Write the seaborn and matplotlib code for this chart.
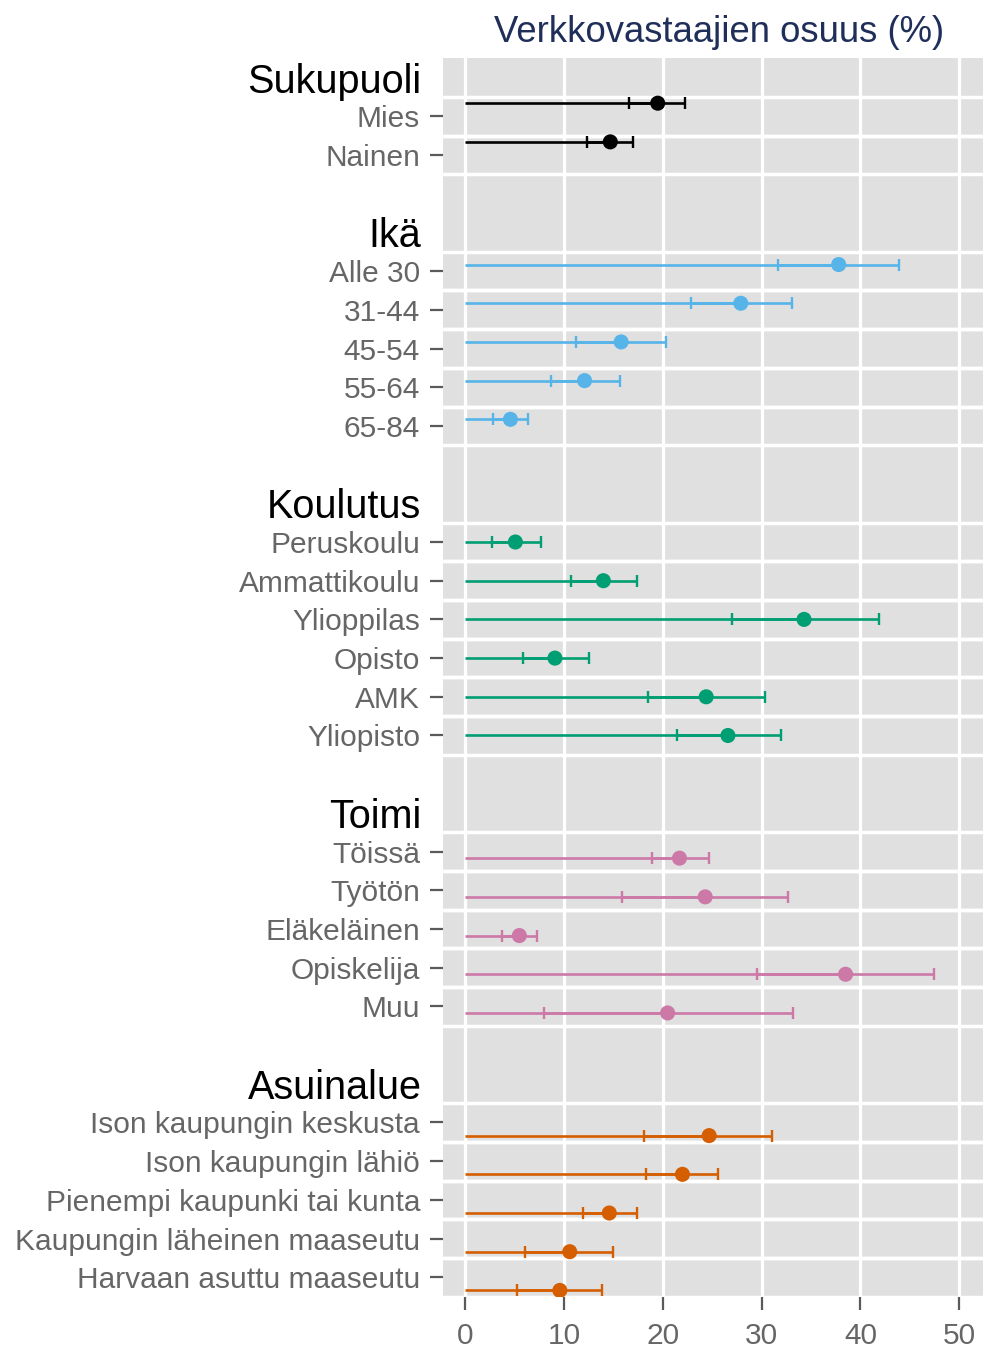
import numpy as np
import pandas as pd
import matplotlib
matplotlib.use("Agg")
import matplotlib.pyplot as plt
import matplotlib.transforms as mtransforms
import seaborn as sns

# -----------------------------
# Data
# -----------------------------
groups = ["Sukupuoli", "Ikä", "Koulutus", "Toimi", "Asuinalue"]
group_colors = ["#000000", "#56B4E9", "#009E73", "#CC79A7", "#D55E00"]

sukupuoli_labels = ["Mies", "Nainen"]
sukupuoli_est = [19.5, 14.7]
sukupuoli_low = [16.6, 12.3]
sukupuoli_high = [22.3, 17.0]

ika_labels = ["Alle 30", "31-44", "45-54", "55-64", "65-84"]
ika_est = [37.8, 27.9, 15.8, 12.1, 4.6]
ika_low = [31.7, 22.9, 11.2, 8.7, 2.8]
ika_high = [43.9, 33.1, 20.3, 15.7, 6.4]

koulutus_labels = ["Peruskoulu", "Ammattikoulu", "Ylioppilas", "Opisto", "AMK", "Yliopisto"]
koulutus_est = [5.1, 14.0, 34.3, 9.1, 24.4, 26.6]
koulutus_low = [2.7, 10.7, 27.0, 5.9, 18.5, 21.4]
koulutus_high = [7.7, 17.4, 41.9, 12.5, 30.3, 32.0]

toimi_labels = ["Töissä", "Työtön", "Eläkeläinen", "Opiskelija", "Muu"]
toimi_est = [21.7, 24.3, 5.5, 38.5, 20.5]
toimi_low = [18.9, 15.9, 3.7, 29.5, 8.0]
toimi_high = [24.7, 32.7, 7.3, 47.4, 33.2]

asuinalue_labels = ["Ison kaupungin keskusta", "Ison kaupungin lähiö",
                    "Pienempi kaupunki tai kunta", "Kaupungin läheinen maaseutu",
                    "Harvaan asuttu maaseutu"]
asuinalue_est = [24.7, 22.0, 14.6, 10.6, 9.6]
asuinalue_low = [18.1, 18.3, 11.9, 6.1, 5.3]
asuinalue_high = [31.1, 25.6, 17.4, 15.0, 13.9]

x_ticks = [0, 10, 20, 30, 40, 50]
title = "Verkkovastaajien osuus (%)"

# -----------------------------
# Build table with row positions
# -----------------------------
parts = [
    (sukupuoli_labels, sukupuoli_est, sukupuoli_low, sukupuoli_high),
    (ika_labels, ika_est, ika_low, ika_high),
    (koulutus_labels, koulutus_est, koulutus_low, koulutus_high),
    (toimi_labels, toimi_est, toimi_low, toimi_high),
    (asuinalue_labels, asuinalue_est, asuinalue_low, asuinalue_high),
]

records = []
header_rows = []
row = 0
for g, (labs, est, low, high) in enumerate(parts):
    if g > 0:
        row += 1  # blank spacer row
    header_rows.append(row)
    row += 1
    for lab, e, lo, hi in zip(labs, est, low, high):
        records.append({"group": groups[g], "gidx": g, "label": lab,
                        "est": e, "low": lo, "high": hi, "row": row})
        row += 1
n_rows = row

df = pd.DataFrame(records)
# dodge offset per group (like position_dodge)
df["ypos"] = df["row"] + (df["gidx"] - 2) * 0.17

# -----------------------------
# Plot
# -----------------------------
sns.set_theme(style="white")
plt.rcParams["font.family"] = ["Liberation Sans", "DejaVu Sans"]

fig = plt.figure(figsize=(9.83, 13.49), dpi=100)
ax = fig.add_axes([443 / 983, 1 - 1296.6 / 1349, 1 - 443 / 983, (1296.6 - 58.3) / 1349])
ax.set_facecolor("#E0E0E0")

ax.set_xlim(-2.22, 52.4)
ax.set_ylim(n_rows - 0.5, -0.5)

# white grid lines
for xv in x_ticks:
    ax.axvline(xv, color="white", lw=2.3, zorder=1)
for r in df["row"]:
    ax.axhline(r - 0.5, color="white", lw=2.5, zorder=1)
    ax.axhline(r + 0.5, color="white", lw=2.5, zorder=1)

palette = dict(zip(groups, group_colors))

for g, name in enumerate(groups):
    sub = df[df["group"] == name]
    col = palette[name]
    ax.hlines(sub["ypos"], 0, sub["est"], color=col, lw=1.9, zorder=2)
    ax.errorbar(sub["est"], sub["ypos"],
                xerr=[sub["est"] - sub["low"], sub["high"] - sub["est"]],
                fmt="none", ecolor=col, elinewidth=1.9, capsize=4.4,
                capthick=1.7, zorder=3)

sns.scatterplot(data=df, x="est", y="ypos", hue="group", palette=palette,
                s=118, linewidth=0, legend=False, ax=ax, zorder=4)

ax.set_xlabel("")
ax.set_ylabel("")
ax.set_xticks(x_ticks)
ax.set_xticklabels([str(v) for v in x_ticks])
ax.set_yticks(df["row"])
ax.set_yticklabels(df["label"])
ax.set_ylim(n_rows - 0.5, -0.5)

ax.tick_params(axis="both", colors="#5A5A5A", labelcolor="#666666",
               labelsize=21.5, length=9.5, width=1.6, direction="out")
ax.tick_params(axis="y", pad=7)
ax.tick_params(axis="x", pad=9)
ax.tick_params(left=True, bottom=True)

for s in ax.spines.values():
    s.set_visible(False)

# group headers
trans = mtransforms.blended_transform_factory(fig.transFigure, ax.transData)
for g, r in enumerate(header_rows):
    ax.text(421.5 / 983, r, groups[g], transform=trans, ha="right",
            va="center_baseline", fontsize=28.5, color="black")

fig.text(719.5 / 983, 1 - 32 / 1349, title, ha="center", va="center",
         fontsize=26.3, color="#1F2F5A")

fig.savefig("out.png", dpi=100, facecolor="white")
